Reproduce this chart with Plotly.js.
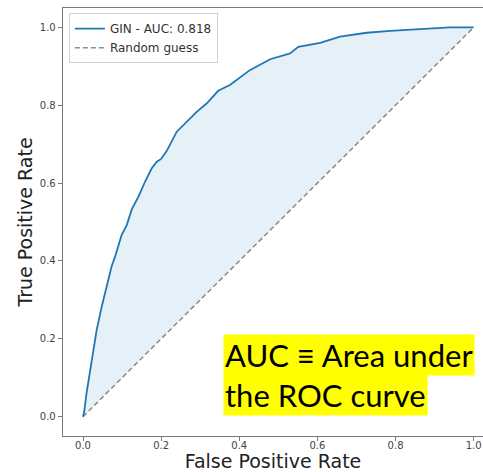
<!DOCTYPE html>
<html>
<head>
<meta charset="utf-8">
<script src="https://cdn.plot.ly/plotly-3.0.1.min.js"></script>
<style>
  html, body { margin: 0; padding: 0; background: #fff; }
  #chart { width: 483px; height: 472px; }
</style>
</head>
<body>
<div id="chart"></div>
<script>
// ROC curve of the GIN classifier
const fpr = [0, 0.003, 0.009, 0.016, 0.025, 0.035, 0.048, 0.061, 0.073, 0.082, 0.090, 0.095, 0.099,
  0.112, 0.125, 0.142, 0.159, 0.176, 0.189, 0.200, 0.214, 0.240, 0.261, 0.291, 0.317, 0.346, 0.376,
  0.402, 0.427, 0.479, 0.530, 0.551, 0.607, 0.658, 0.726, 0.786, 0.871, 0.939, 1.0];
const tpr = [0, 0.012, 0.060, 0.105, 0.163, 0.223, 0.283, 0.334, 0.385, 0.411, 0.437, 0.452, 0.467,
  0.492, 0.533, 0.565, 0.604, 0.638, 0.655, 0.662, 0.682, 0.732, 0.753, 0.783, 0.805, 0.837, 0.852,
  0.872, 0.890, 0.918, 0.933, 0.950, 0.960, 0.976, 0.986, 0.991, 0.997, 1.0, 1.0];

// chance-level reference line
const chanceX = [0, 1];
const chanceY = [0, 1];

const modelName = "GIN - AUC: 0.818";
const chanceName = "Random guess";
const tickVals = [0, 0.2, 0.4, 0.6, 0.8, 1.0];
const tickText = ["0.0", "0.2", "0.4", "0.6", "0.8", "1.0"];
const noteLines = ["AUC \u2261 Area under", "the ROC curve"];

const traces = [
  {
    x: chanceX, y: chanceY, type: "scatter", mode: "lines",
    name: chanceName, legendrank: 2,
    line: { color: "#8a8a8a", width: 1.5, dash: "5px,3px" },
    hoverinfo: "skip"
  },
  // shaded area between the ROC curve and the chance line
  {
    x: fpr, y: tpr, type: "scatter", mode: "lines",
    showlegend: false, hoverinfo: "skip",
    line: { width: 0 },
    fill: "tonexty", fillcolor: "rgba(31,119,180,0.11)"
  },
  {
    x: fpr, y: tpr, type: "scatter", mode: "lines",
    name: modelName, legendrank: 1,
    line: { color: "#1f77b4", width: 1.8 }
  }
];

const axisCommon = {
  showgrid: false, zeroline: false,
  showline: true, linecolor: "#7a7a7a", linewidth: 1.3,
  ticks: "outside", ticklen: 4, tickwidth: 1, tickcolor: "#7a7a7a",
  tickvals: tickVals, ticktext: tickText,
  tickfont: { family: "DejaVu Sans", size: 10, color: "#444" }
};

const layout = {
  width: 483, height: 472,
  margin: { l: 63, r: 0, t: 8, b: 36 },
  paper_bgcolor: "#fff", plot_bgcolor: "#fff",
  showlegend: true,
  xaxis: Object.assign({}, axisCommon, {
    range: [-0.0512, 1.0238], mirror: true, ticklabelstandoff: -4,
    title: { text: "False Positive Rate", standoff: 3,
             font: { family: "DejaVu Sans", size: 19, color: "#222" } }
  }),
  yaxis: Object.assign({}, axisCommon, {
    range: [-0.0496, 1.0496],
    title: { text: "True Positive Rate", standoff: 2,
             font: { family: "DejaVu Sans", size: 19, color: "#222" } }
  }),
  legend: {
    x: 0.014, y: 0.988, xanchor: "left", yanchor: "top",
    traceorder: "normal",
    bgcolor: "rgba(255,255,255,0.85)", bordercolor: "#d0d0d0", borderwidth: 1,
    font: { family: "DejaVu Sans", size: 12, color: "#333" },
    tracegroupgap: 0
  },
  annotations: [
    {
      xref: "paper", yref: "paper", x: 0.381, y: 0.239,
      xanchor: "left", yanchor: "top", align: "left",
      text: noteLines[0], showarrow: false,
      bgcolor: "#ffff00", borderpad: 1,
      font: { family: "Lato", size: 31, color: "#000" }
    },
    {
      xref: "paper", yref: "paper", x: 0.381, y: 0.1455,
      xanchor: "left", yanchor: "top", align: "left",
      text: noteLines[1], showarrow: false,
      bgcolor: "#ffff00", borderpad: 1,
      font: { family: "Lato", size: 31, color: "#000" }
    }
  ]
};

Plotly.newPlot("chart", traces, layout, { displayModeBar: false, staticPlot: true });
</script>
</body>
</html>
